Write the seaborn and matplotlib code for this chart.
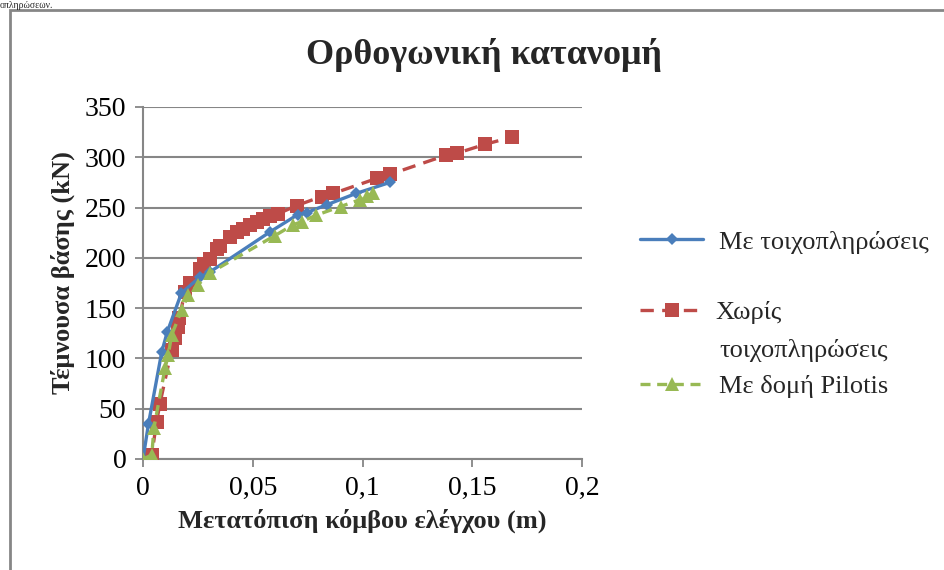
import matplotlib
matplotlib.use("Agg")
import matplotlib.pyplot as plt
import seaborn as sns
import pandas as pd
from matplotlib.patches import Rectangle

# Data
x_with = [0, 0.0025, 0.0085, 0.011, 0.0175, 0.026, 0.0305, 0.058, 0.0705, 0.0745, 0.084, 0.097, 0.1125]
y_with = [0, 35, 106, 126, 165, 181, 186, 226, 243, 245, 253, 264, 275]

x_without = [0, 0.004, 0.0062, 0.0077, 0.013, 0.0146, 0.016, 0.0166, 0.019, 0.0214, 0.026, 0.028, 0.0305,
             0.0335, 0.035, 0.0396, 0.0427, 0.0457, 0.0487, 0.0518, 0.0548, 0.0579, 0.0617, 0.070,
             0.0814, 0.0866, 0.1065, 0.1125, 0.138, 0.143, 0.156, 0.168]
y_without = [2, 4, 37, 55, 108, 120, 131, 140, 166, 175, 189, 194, 199,
             209, 212, 221, 226, 229, 232.5, 236, 239, 242, 244, 252,
             261, 264, 279, 283, 302, 304, 313, 320]

x_pilotis = [0, 0.004, 0.005, 0.010, 0.0115, 0.013, 0.0176, 0.0206, 0.025, 0.0305, 0.060, 0.0685,
             0.0723, 0.079, 0.090, 0.099, 0.102, 0.105]
y_pilotis = [0, 4, 31, 90, 103, 123, 148, 163, 173, 185, 222, 233, 236, 242.5, 251, 258, 262, 264]

labels = ["Με τοιχοπληρώσεις", "Χωρίς", "Με δομή Pilotis"]
label2_cont = "τοιχοπληρώσεις"
x_ticks = [0, 0.05, 0.1, 0.15, 0.2]
x_ticklabels = ["0", "0,05", "0,1", "0,15", "0,2"]
y_ticks = [0, 50, 100, 150, 200, 250, 300, 350]

sns.set_theme(style="white")
plt.rcParams['font.family'] = ['Liberation Serif', 'DejaVu Serif']

W, H = 944, 570
fig = plt.figure(figsize=(W/100, H/100), dpi=100)
ax = fig.add_axes([143/W, 1-459/H, (582-143)/W, (459-107)/H])

df1 = pd.DataFrame({"x": x_with, "y": y_with})
df2 = pd.DataFrame({"x": x_without, "y": y_without})
df3 = pd.DataFrame({"x": x_pilotis, "y": y_pilotis})

sns.lineplot(data=df2, x="x", y="y", sort=False, ax=ax, color="#BE4B48", lw=2.4,
             linestyle=(0, (4, 2.5)), marker="s", markersize=9.5, markeredgewidth=0,
             label=labels[1], zorder=3)
sns.lineplot(data=df1, x="x", y="y", sort=False, ax=ax, color="#4A7EBB", lw=2.4,
             marker="D", markersize=6.5, markeredgewidth=0, label=labels[0], zorder=4)
sns.lineplot(data=df3, x="x", y="y", sort=False, ax=ax, color="#98B954", lw=2.4,
             linestyle=(0, (3, 2)), marker="^", markersize=9.5, markeredgewidth=0,
             label=labels[2], zorder=5)

ax.set_xlim(0, 0.2)
ax.set_ylim(0, 350)
ax.set_xticks(x_ticks)
ax.set_xticklabels(x_ticklabels)
ax.set_yticks(y_ticks)
ax.tick_params(axis="both", labelsize=20, labelcolor="#000000", color="#868686",
               length=6, width=1.3, direction="out", pad=6)
ax.xaxis.set_ticks_position("bottom")
ax.yaxis.set_ticks_position("left")
for s in ["top", "right"]:
    ax.spines[s].set_visible(False)
for s in ["left", "bottom"]:
    ax.spines[s].set_color("#868686")
    ax.spines[s].set_linewidth(1.5)
ax.grid(axis="y", color="#868686", lw=1.5)
ax.grid(axis="x", visible=False)
ax.set_axisbelow(True)

ax.set_xlabel("Μετατόπιση κόμβου ελέγχου (m)", fontsize=19, fontweight="bold", labelpad=6)
ax.set_ylabel("Τέμνουσα βάσης (kN)", fontsize=19, fontweight="bold", labelpad=6)
ax.yaxis.set_label_coords(-0.155, 0.53)

fig.text(484/W, 1-55/H, "Ορθογωνική κατανομή", ha="center", va="center",
         fontsize=26, fontweight="bold")

handles, labs = ax.get_legend_handles_labels()
ax.get_legend().remove()
hmap = dict(zip(labs, handles))
leg_y = [242, 312, 386]
leg_pad = [0.6, 0.45, 0.6]
legs = []
for lab, yy, pad in zip(labels, leg_y, leg_pad):
    lg = fig.legend([hmap[lab]], [lab], loc="center left",
                    bbox_to_anchor=(640/W, 1-yy/H), frameon=False, fontsize=19,
                    handlelength=2.4, handletextpad=pad, borderpad=0, borderaxespad=0)
    legs.append(lg)

fig.canvas.draw()
x0 = legs[0].get_texts()[0].get_window_extent().x0
fig.text(x0/W, 1-350/H, label2_cont, ha="left", va="center", fontsize=19)

# Chart frame
fig.patches.append(Rectangle((10/W, -0.1), 1.2, 1 - 10/H + 0.1, transform=fig.transFigure,
                             fill=False, edgecolor="#868686", lw=2, zorder=0))
# Text fragment of the document above the chart
fig.text(0, 1 - 1/H, "οπληρώσεων.", ha="left", va="top", fontsize=7)

fig.savefig("out.png", dpi=100)
